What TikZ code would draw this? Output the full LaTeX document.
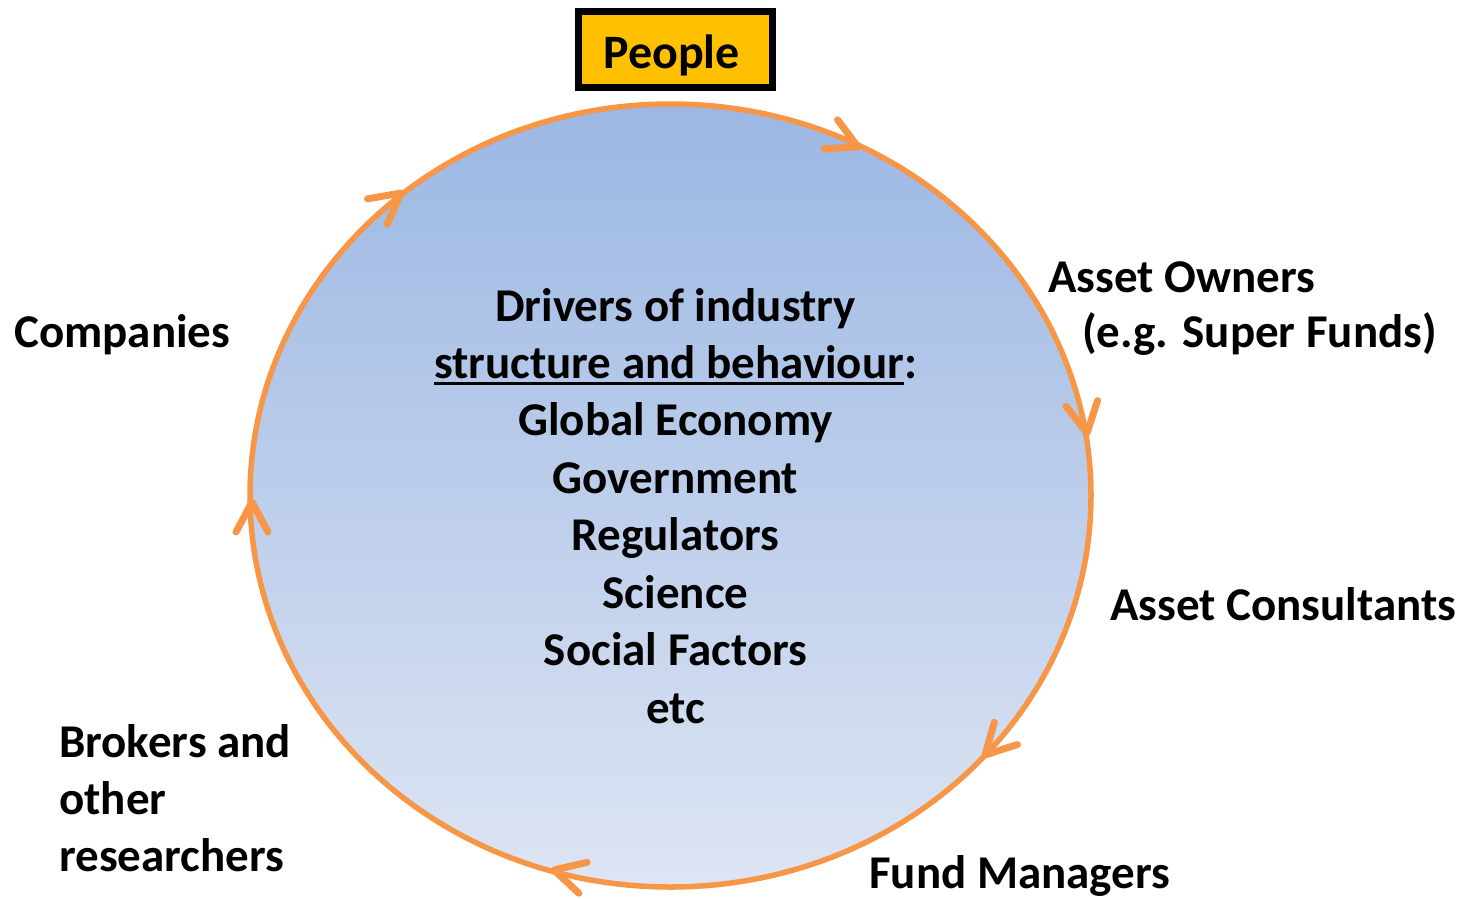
\documentclass[tikz,border=0pt]{standalone}
\usepackage{fontspec}
\setmainfont{Carlito}
\usetikzlibrary{shapes.geometric}
\definecolor{ring}{RGB}{247,150,70}
\definecolor{gold}{RGB}{255,192,0}
\definecolor{topblue}{RGB}{155,183,227}
\definecolor{botblue}{RGB}{222,229,243}
\newcommand\lblfont{\fontsize{47}{57.5}\selectfont\bfseries}
\newcommand\myul[1]{\setbox0\hbox{#1}\rlap{\rule[-7pt]{\wd0}{3pt}}\box0}
\tikzset{
  lbl/.style={font=\lblfont, inner sep=0pt, text=black},
  cyclering/.style={ellipse, draw=ring, line width=5.5, top color=topblue, bottom color=botblue, inner sep=0pt},
  flowtip/.style={draw=ring, line width=7, line cap=round, line join=round},
  peoplebox/.style={draw=black, line width=7.5, fill=gold, font=\fontsize{48}{57.5}\selectfont\bfseries, inner sep=0pt, text depth=0pt}
}
\begin{document}
\begin{tikzpicture}[x=1pt,y=-1pt]
\useasboundingbox (0,0) rectangle (1471,898);
% cycle
\node[cyclering, minimum width=841, minimum height=783] (cyc) at (670.5,495.5) {};
% arrow tips on the ring (clockwise)
\coordinate (t1) at (858,147);
\coordinate (t2) at (401,193);
\coordinate (t3) at (1087,433);
\coordinate (t4) at (252,502);
\coordinate (t5) at (985,755);
\coordinate (t6) at (554,870);
\draw[flowtip, shift={(t1)}, rotate=-25] (-30,-16) -- (0,0) -- (-30,16);
\draw[flowtip, shift={(t2)}, rotate=38] (-30,-16) -- (0,0) -- (-30,16);
\draw[flowtip, shift={(t3)}, rotate=-80] (-30,-16) -- (0,0) -- (-30,16);
\draw[flowtip, shift={(t4)}, rotate=90] (-30,-16) -- (0,0) -- (-30,16);
\draw[flowtip, shift={(t5)}, rotate=-134] (-30,-16) -- (0,0) -- (-30,16);
\draw[flowtip, shift={(t6)}, rotate=165] (-30,-16) -- (0,0) -- (-30,16);
% People box
\node[peoplebox, minimum width=194, minimum height=76] (people) at (675.5,49.5) {\raisebox{-5pt}{People}\hspace*{8pt}};
% outer labels
\node[lbl, anchor=base west] (companies) at (14,347) {Companies};
\node[lbl, anchor=base west] (owners1) at (1048,292) {Asset Owners};
\node[lbl, anchor=base west] (owners2) at (1082,347) {(e.g. Super Funds)};
\node[lbl, anchor=base west] (consult) at (1110,620) {Asset Consultants};
\node[lbl, anchor=base west] (fund) at (869,888) {Fund Managers};
\node[lbl, anchor=base west] (brok1) at (59,757) {Brokers and};
\node[lbl, anchor=base west] (brok2) at (59,814) {other};
\node[lbl, anchor=base west] (brok3) at (59,871) {researchers};
% centre text
\node[lbl, anchor=base] (c1) at (675.5,321) {Drivers of industry};
\node[lbl, anchor=base] (c2) at (675.5,378) {\myul{structure and behaviour}:};
\node[lbl, anchor=base] (c3) at (675.5,435.5) {Global Economy};
\node[lbl, anchor=base] (c4) at (675.5,493) {Government};
\node[lbl, anchor=base] (c5) at (675.5,550.5) {Regulators};
\node[lbl, anchor=base] (c6) at (675.5,608) {Science};
\node[lbl, anchor=base] (c7) at (675.5,665.5) {Social Factors};
\node[lbl, anchor=base] (c8) at (675.5,723) {etc};
\end{tikzpicture}
\end{document}
